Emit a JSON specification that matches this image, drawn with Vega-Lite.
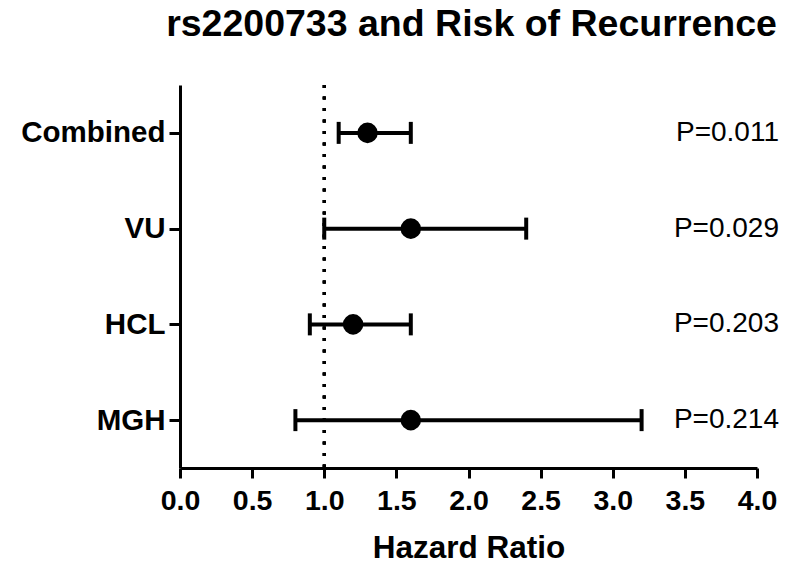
{
  "$schema": "https://vega.github.io/schema/vega-lite/v6.json",
  "autosize": "none",
  "width": 577,
  "height": 383,
  "padding": {"left": 180, "top": 85, "right": 28, "bottom": 98},
  "background": "white",
  "title": {
    "text": "rs2200733 and Risk of Recurrence",
    "font": "Liberation Sans",
    "fontSize": 37.5,
    "fontWeight": "bold",
    "color": "black",
    "anchor": "middle",
    "dx": 3,
    "offset": 40
  },
  "config": {
    "view": {"stroke": null},
    "axis": {
      "domainColor": "black",
      "domainWidth": 3,
      "tickColor": "black",
      "tickWidth": 3,
      "labelFont": "Liberation Sans",
      "labelFontWeight": "bold",
      "labelColor": "black",
      "titleFont": "Liberation Sans",
      "titleColor": "black",
      "grid": false
    }
  },
  "data": {
    "values": [
      {"cohort": "Combined", "hr": 1.3, "lo": 1.1, "hi": 1.6, "p": "P=0.011"},
      {"cohort": "VU", "hr": 1.6, "lo": 1.0, "hi": 2.4, "p": "P=0.029"},
      {"cohort": "HCL", "hr": 1.2, "lo": 0.9, "hi": 1.6, "p": "P=0.203"},
      {"cohort": "MGH", "hr": 1.6, "lo": 0.8, "hi": 3.2, "p": "P=0.214"}
    ]
  },
  "encoding": {
    "y": {
      "field": "cohort",
      "type": "nominal",
      "sort": ["Combined", "VU", "HCL", "MGH"],
      "scale": {"type": "point", "padding": 0.5},
      "axis": {
        "title": null,
        "labelFontSize": 29.5,
        "labelPadding": 4,
        "tickSize": 11
      }
    }
  },
  "layer": [
    {
      "mark": {"type": "rule", "color": "black", "strokeWidth": 3, "strokeDash": [3, 8.5]},
      "encoding": {"x": {"datum": 1}, "y": null}
    },
    {
      "mark": {"type": "rule", "color": "black", "strokeWidth": 4},
      "encoding": {
        "x": {
          "field": "lo",
          "type": "quantitative",
          "scale": {"domain": [0, 4], "nice": false, "zero": false},
          "axis": {
            "title": "Hazard Ratio",
            "titleFontSize": 31.5,
            "titleFontWeight": "bold",
            "titlePadding": 18,
            "values": [0, 0.5, 1, 1.5, 2, 2.5, 3, 3.5, 4],
            "format": ".1f",
            "labelFontSize": 28.5,
            "labelFlush": false,
            "labelPadding": 8,
            "tickSize": 10
          }
        },
        "x2": {"field": "hi"}
      }
    },
    {
      "mark": {"type": "tick", "color": "black", "thickness": 4, "size": 22, "opacity": 1},
      "encoding": {"x": {"field": "lo", "type": "quantitative"}}
    },
    {
      "mark": {"type": "tick", "color": "black", "thickness": 4, "size": 22, "opacity": 1},
      "encoding": {"x": {"field": "hi", "type": "quantitative"}}
    },
    {
      "mark": {"type": "point", "filled": true, "color": "black", "opacity": 1, "size": 420},
      "encoding": {"x": {"field": "hr", "type": "quantitative"}}
    },
    {
      "mark": {"type": "text", "font": "Liberation Sans", "fontSize": 28, "align": "right", "baseline": "middle", "dx": 22, "color": "black"},
      "encoding": {"x": {"datum": 4}, "text": {"field": "p"}}
    }
  ]
}
